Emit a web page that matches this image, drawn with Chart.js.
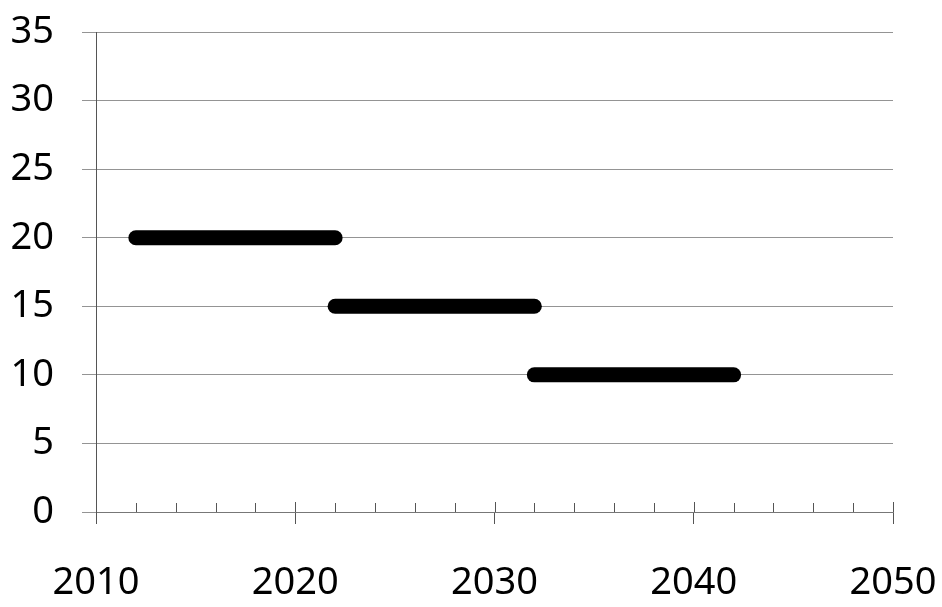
<!DOCTYPE html>
<html>
<head>
<meta charset="utf-8">
<script src="https://cdn.jsdelivr.net/npm/chart.js@4"></script>
<style>
    html, body { margin: 0; padding: 0; background: #fff; }
    #wrap { width: 942px; height: 607px; }
</style>
</head>
<body>
<div id="wrap"><canvas id="stepChart" width="942" height="607"></canvas></div>
<script>
// each bar: start year, end year, value
const segStart = [2012, 2022, 2032];
const segEnd = [2022, 2032, 2042];
const segValue = [20, 15, 10];

const xTicks = [2010, 2020, 2030, 2040, 2050];
const yTicks = [0, 5, 10, 15, 20, 25, 30, 35];
const minorYears = [2012, 2014, 2016, 2018, 2022, 2024, 2026, 2028, 2032, 2034, 2036, 2038, 2042, 2044, 2046, 2048];

const FONT = "'Noto Sans', 'DejaVu Sans', sans-serif";

/* ========== MINOR TICKS ON X AXIS ========== */
const minorTicks = {
    id: "minorTicks",
    afterDraw(chart) {
        const ctx = chart.ctx;
        const x = chart.scales.x;
        const y0 = x.top;
        ctx.save();
        ctx.strokeStyle = "#555";
        ctx.lineWidth = 1;
        ctx.beginPath();
        minorYears.forEach(yr => {
            const px = Math.round(x.getPixelForValue(yr)) + 0.5;
            ctx.moveTo(px, y0 - 9);
            ctx.lineTo(px, y0);
        });
        xTicks.forEach(yr => {
            const px = Math.round(x.getPixelForValue(yr)) + 0.5;
            ctx.moveTo(px, y0 - 10);
            ctx.lineTo(px, y0);
        });
        ctx.stroke();
        ctx.restore();
    }
};

const datasets = segValue.map((v, i) => ({
    data: [{ x: segStart[i], y: v }, { x: segEnd[i], y: v }],
    showLine: true,
    borderColor: "#000",
    backgroundColor: "#000",
    borderWidth: 15,
    borderCapStyle: "round",
    pointRadius: 0,
    pointHoverRadius: 0
}));

const ctx = document.getElementById("stepChart").getContext("2d");
new Chart(ctx, {
    type: "scatter",
    data: { datasets },
    options: {
        responsive: false,
        animation: false,
        events: [],
        layout: { padding: { top: 32, right: 49, bottom: 0, left: 0 } },
        plugins: { legend: { display: false }, tooltip: { enabled: false } },
        scales: {
            x: {
                type: "linear",
                min: 2010,
                max: 2050,
                afterBuildTicks: s => { s.ticks = xTicks.map(v => ({ value: v })); },
                afterFit: s => { s.height = 95; s.paddingLeft = 0; s.paddingRight = 0; },
                grid: { drawOnChartArea: false, color: "#555", tickLength: 12 },
                border: { color: "#777", width: 1 },
                ticks: {
                    color: "#000",
                    padding: 36,
                    maxRotation: 0,
                    font: { family: FONT, size: 38 },
                    callback: v => String(v)
                }
            },
            y: {
                min: 0,
                max: 35,
                afterBuildTicks: s => { s.ticks = yTicks.map(v => ({ value: v })); },
                afterFit: s => { s.width = 96; s.paddingTop = 0; s.paddingBottom = 0; },
                grid: { color: "rgba(0,0,0,0.42)", lineWidth: 1, tickLength: 14 },
                border: { color: "#555", width: 1 },
                ticks: {
                    color: "#000",
                    padding: 28,
                    font: { family: FONT, size: 38 }
                }
            }
        }
    },
    plugins: [minorTicks]
});
</script>
</body>
</html>
